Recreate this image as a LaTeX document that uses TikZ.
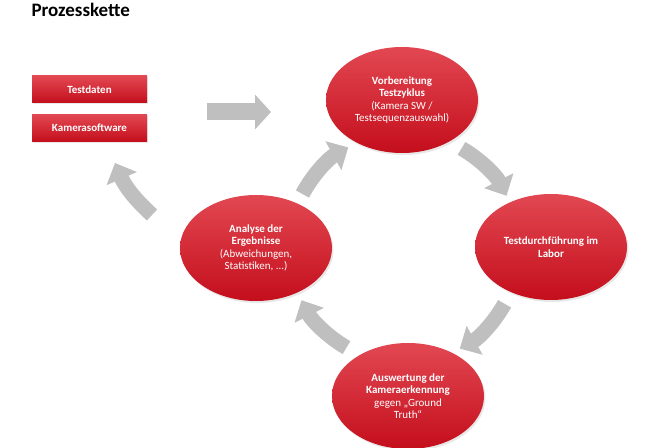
\documentclass[tikz,border=0pt]{standalone}
\usepackage{fontspec}
\setmainfont{Carlito}
\usetikzlibrary{shapes.geometric,arrows.meta,shadows}

\definecolor{redTop}{RGB}{226,72,82}
\definecolor{redBottom}{RGB}{196,14,28}
\definecolor{arrowGray}{RGB}{191,191,191}

\begin{document}
\begin{tikzpicture}
[x=1pt,y=1pt,
  stepDecorate/.style={shape=ellipse,minimum width=152pt,minimum height=106pt,inner sep=0pt,
    top color=redTop,bottom color=redBottom,text=white,align=center,
    font=\fontsize{11}{12.5}\selectfont,
    drop shadow={opacity=0.18,shadow xshift=1.5pt,shadow yshift=-2pt}},%
  boxDecorate/.style={shape=rectangle,minimum width=115pt,minimum height=27pt,inner sep=0pt,
    top color=redTop,bottom color=redBottom,text=white,
    font=\fontsize{11}{12.5}\selectfont\bfseries,
    drop shadow={opacity=0.18,shadow xshift=1pt,shadow yshift=-1.5pt}},%
  arrowDecorate/.style={draw=arrowGray,line width=15pt,-{Triangle[length=17pt,width=32pt]}}]
\useasboundingbox (0,0) rectangle (671,447);
%% title
\node (title) at (28,430) [anchor=base west,font=\fontsize{19}{22}\selectfont\bfseries] {Prozesskette};
%% inputs
\node (testdaten) at (89.5,357.5) [boxDecorate] {Testdaten};
\node (software) at (89.5,319) [boxDecorate] {Kamerasoftware};
%% steps of the cycle
\node (vor) at (402,347) [stepDecorate]
  {\textbf{Vorbereitung}\\\textbf{Testzyklus}\\(Kamera SW /\\Testsequenzauswahl)};
\node (labor) at (551,200) [stepDecorate]
  {\textbf{Testdurchführung im}\\\textbf{Labor}};
\node (auswertung) at (408,51) [stepDecorate]
  {\textbf{Auswertung der}\\\textbf{Kameraerkennung}\\gegen „Ground\\Truth“};
\node (analyse) at (256,199) [stepDecorate]
  {\textbf{Analyse der}\\\textbf{Ergebnisse}\\(Abweichungen,\\Statistiken, ...)};
%% arrows
\coordinate (cyc) at (404,199);
\foreach \startAngle/\endAngle in {152/119, 60/27, -29/-61, -120/-153}
{
  \draw[arrowDecorate] ([shift={(\startAngle:115)}]cyc)
    arc[start angle=\startAngle,end angle=\endAngle,radius=115];
}
\coordinate (backTail) at (152,232);
\coordinate (backTip) at (115,284);
\draw[arrowDecorate] (backTail) to[bend left=12] (backTip);
\coordinate (inTail) at (207,335);
\coordinate (inTip) at (271,335);
\draw[arrowDecorate,line width=17pt,-{Triangle[length=16pt,width=34pt]}] (inTail) -- (inTip);
\end{tikzpicture}
\end{document}
